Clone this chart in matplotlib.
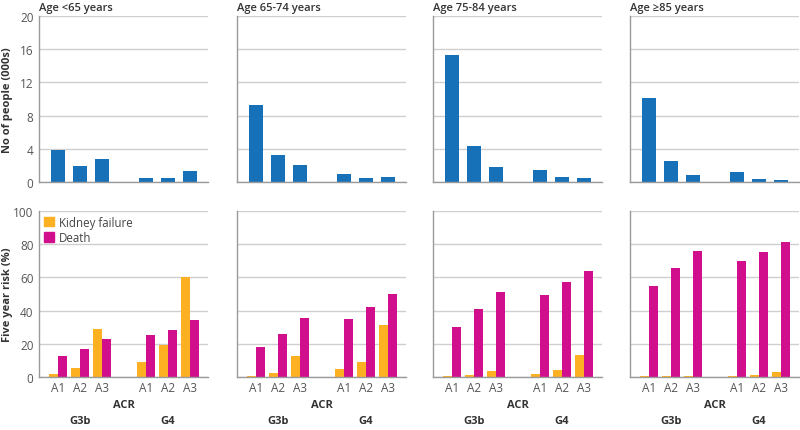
import matplotlib
matplotlib.use("Agg")
import matplotlib.pyplot as plt
from matplotlib.transforms import blended_transform_factory
from matplotlib.patches import Patch

plt.rcParams['font.family'] = ['Open Sans', 'DejaVu Sans']

age_groups = ["Age <65 years", "Age 65-74 years", "Age 75-84 years", "Age \u226585 years"]
acr_labels = ["A1", "A2", "A3", "A1", "A2", "A3"]
stage_labels = ["G3b", "G4"]

# Number of people (000s): G3b A1-A3, G4 A1-A3
people = [
    [3.85, 1.95, 2.75, 0.45, 0.45, 1.3],
    [9.25, 3.25, 2.1, 0.95, 0.5, 0.55],
    [15.35, 4.3, 1.85, 1.5, 0.65, 0.45],
    [10.1, 2.55, 0.85, 1.2, 0.4, 0.2],
]
# Five year risk (%)
kidney_failure = [
    [1.6, 5.4, 29.2, 8.8, 19.0, 60.0],
    [0.8, 2.6, 12.4, 4.6, 9.2, 31.2],
    [0.6, 1.2, 3.8, 2.0, 4.2, 13.4],
    [0.4, 0.6, 0.6, 0.6, 1.2, 3.0],
]
death = [
    [12.4, 17.0, 22.6, 25.6, 28.2, 34.4],
    [18.0, 26.0, 35.8, 35.2, 42.0, 50.0],
    [30.2, 40.8, 51.2, 49.4, 57.0, 63.6],
    [54.8, 65.4, 76.2, 70.0, 75.6, 81.6],
]

BLUE = "#1771b9"
ORANGE = "#fdb022"
MAGENTA = "#d10f8c"
GRID = "#cfcfcf"
SPINE = "#9a9a9a"
TXT = "#333333"

W, H = 800, 431
fig = plt.figure(figsize=(8, 4.31), dpi=100)

xpos = [0, 1, 2, 4, 5, 6]
lefts = [39, 237, 433, 630]
pw = 169
top_y0, top_y1 = 17, 183
bot_y0, bot_y1 = 212, 378
ph = top_y1 - top_y0

def style(ax, first, yticks):
    ax.set_xlim(-0.85, 6.83)
    for s in ["top", "right"]:
        ax.spines[s].set_visible(False)
    ax.spines["left"].set_color(SPINE)
    ax.spines["bottom"].set_color(SPINE)
    ax.spines["left"].set_linewidth(1.0)
    ax.spines["bottom"].set_linewidth(1.0)
    ax.set_yticks(yticks)
    ax.grid(axis="y", color=GRID, linewidth=1.0)
    ax.set_axisbelow(True)
    ax.tick_params(axis="both", length=0, labelsize=8.5, colors="#555555", pad=4)
    if not first:
        ax.set_yticklabels([])

for i in range(4):
    l = lefts[i] / W
    # top row
    axt = fig.add_axes([l, 1 - top_y1 / H, pw / W, ph / H])
    axt.bar(xpos, people[i], width=0.63, color=BLUE)
    axt.set_ylim(0, 20)
    style(axt, i == 0, [0, 4, 8, 12, 16, 20])
    axt.set_xticks([])
    axt.text(0, 1 + 9 / ph, age_groups[i], transform=axt.transAxes, ha="left", va="center",
             fontsize=8, fontweight="semibold", color=TXT)

    # bottom row
    axb = fig.add_axes([l, 1 - bot_y1 / H, pw / W, ph / H])
    xk = [x - 0.2 for x in xpos]
    xd = [x + 0.2 for x in xpos]
    axb.bar(xk, kidney_failure[i], width=0.4, color=ORANGE)
    axb.bar(xd, death[i], width=0.4, color=MAGENTA)
    axb.set_ylim(0, 100)
    style(axb, i == 0, [0, 20, 40, 60, 80, 100])
    axb.set_xticks(xpos)
    axb.set_xticklabels(acr_labels)
    axb.tick_params(axis="x", pad=3, labelcolor="#555555")
    tr = blended_transform_factory(axb.transData, axb.transAxes)
    axb.text(0.5, -28 / ph, "ACR", transform=axb.transAxes, ha="center", va="center",
             fontsize=8, fontweight="bold", color=TXT)
    axb.text(1, -44 / ph, stage_labels[0], transform=tr, ha="center", va="center",
             fontsize=8, fontweight="bold", color=TXT)
    axb.text(5, -44 / ph, stage_labels[1], transform=tr, ha="center", va="center",
             fontsize=8, fontweight="bold", color=TXT)
    if i == 0:
        handles = [Patch(color=ORANGE, label="Kidney failure"), Patch(color=MAGENTA, label="Death")]
        axb.legend(handles=handles, loc="upper left", frameon=False, fontsize=8.3,
                   handlelength=0.9, handleheight=0.9, handletextpad=0.4,
                   borderaxespad=0.1, labelspacing=0.2, borderpad=0.3,
                   bbox_to_anchor=(0.0, 1.0), labelcolor="#444444")

fig.text(8 / W, 1 - 100 / H, "No of people (000s)", rotation=90, ha="center", va="center",
         fontsize=8, fontweight="bold", color=TXT)
fig.text(8 / W, 1 - 295 / H, "Five year risk (%)", rotation=90, ha="center", va="center",
         fontsize=8, fontweight="bold", color=TXT)

fig.savefig("out.png", dpi=100)
